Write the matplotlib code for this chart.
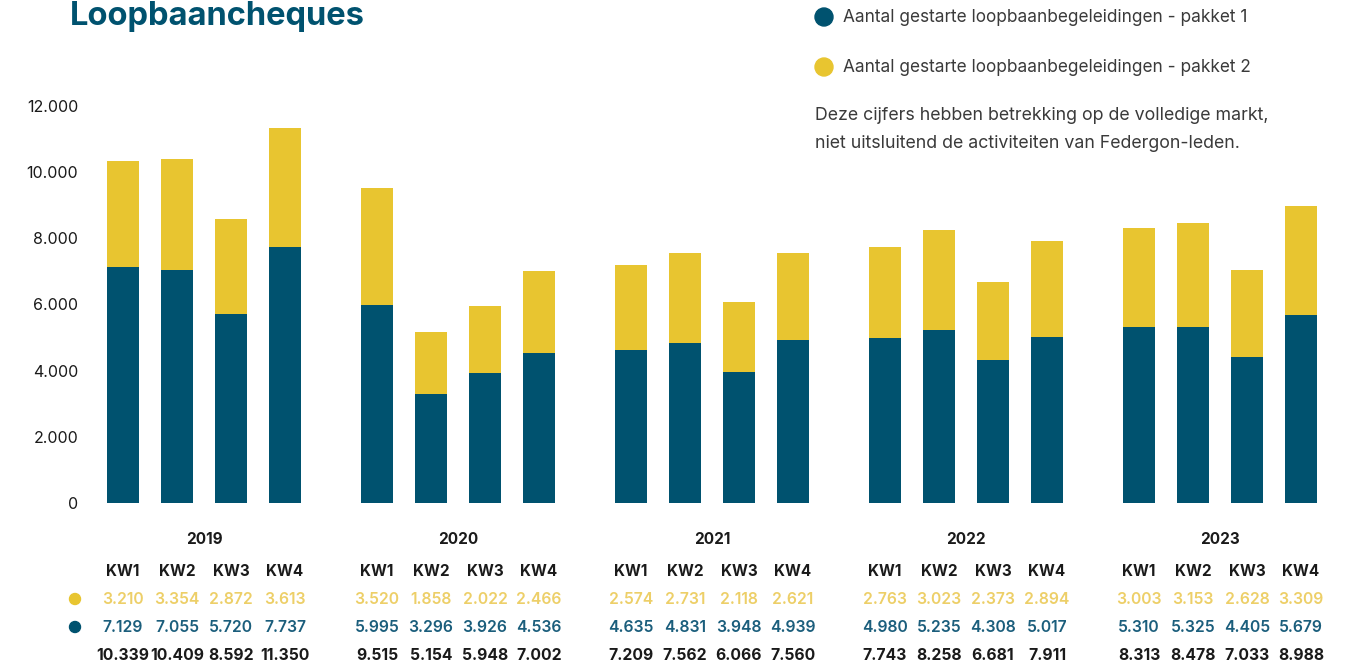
import numpy as np
import matplotlib
matplotlib.use("Agg")
from matplotlib import pyplot as plt
from matplotlib.patches import Ellipse
from matplotlib.ticker import FuncFormatter
from matplotlib.transforms import blended_transform_factory

plt.rcParams['font.family'] = ['Inter', 'DejaVu Sans']

# data
years = ['2019', '2020', '2021', '2022', '2023']
quarters = ['KW1', 'KW2', 'KW3', 'KW4']
pakket1 = [7129, 7055, 5720, 7737,
           5995, 3296, 3926, 4536,
           4635, 4831, 3948, 4939,
           4980, 5235, 4308, 5017,
           5310, 5325, 4405, 5679]
pakket2 = [3210, 3354, 2872, 3613,
           3520, 1858, 2022, 2466,
           2574, 2731, 2118, 2621,
           2763, 3023, 2373, 2894,
           3003, 3153, 2628, 3309]
label1 = 'Aantal gestarte loopbaanbegeleidingen - pakket 1'
label2 = 'Aantal gestarte loopbaanbegeleidingen - pakket 2'
note = 'Deze cijfers hebben betrekking op de volledige markt,\nniet uitsluitend de activiteiten van Federgon-leden.'

BLUE = '#00526F'
YELLOW = '#E8C530'
YELLOW_TXT = '#EDCF68'
BLUE_TXT = '#1B5E7C'
DARK = '#1a1a1a'
GREY = '#3a3a3a'

def fmt(v):
    return f"{int(v):,}".replace(',', '.')

W, H = 1354, 666
fig = plt.figure(figsize=(W / 100, H / 100), dpi=100)

# bar positions: 4 bars per year, years 254 px apart, bars 54 px apart
pos = np.array([g * (254 / 54) + q for g in range(len(years)) for q in range(4)])
width = 32 / 54

ax = fig.add_axes([95 / W, 163 / H, (1330 - 95) / W, 397 / H])
ax.bar(pos, pakket1, width=width, color=BLUE)
ax.bar(pos, pakket2, width=width, bottom=pakket1, color=YELLOW)
ax.set_xlim((95 - 123) / 54, (1330 - 123) / 54)
ax.set_ylim(0, 12000)
ax.set_yticks(np.arange(0, 12001, 2000))
ax.yaxis.set_major_formatter(FuncFormatter(lambda v, p: fmt(v)))
ax.tick_params(axis='y', length=0, pad=12, labelsize=11.5, labelcolor=DARK)
ax.set_xticks([])
for s in ax.spines.values():
    s.set_visible(False)

# title
fig.text(70 / W, 1 - 16 / H, 'Loopbaancheques', fontsize=23.5, fontweight='bold',
         color=BLUE, va='center', ha='left')

# legend + note
fig.text(843 / W, 1 - 17 / H, label1, fontsize=12.4, color=GREY, va='center')
fig.text(843 / W, 1 - 67 / H, label2, fontsize=12.4, color=GREY, va='center')
fig.text(815 / W, 1 - 129.5 / H, note, fontsize=12.8, color=GREY, va='center',
         linespacing=1.85)
fig.add_artist(Ellipse((824 / W, 1 - 17 / H), 18 / W, 18 / H,
                       transform=fig.transFigure, color=BLUE))
fig.add_artist(Ellipse((824 / W, 1 - 67 / H), 18 / W, 18 / H,
                       transform=fig.transFigure, color=YELLOW))

# table under the chart
tr = blended_transform_factory(ax.transData, fig.transFigure)
for g, yr in enumerate(years):
    cx = pos[g * 4:(g + 1) * 4].mean()
    fig.text(cx, 1 - 539 / H, yr, transform=tr, ha='center', va='center',
             fontsize=11, fontweight='bold', color=DARK)
for i, x in enumerate(pos):
    fig.text(x, 1 - 572 / H, quarters[i % 4], transform=tr, ha='center', va='center',
             fontsize=11, fontweight='bold', color=DARK)
    fig.text(x, 1 - 599 / H, fmt(pakket2[i]), transform=tr, ha='center', va='center',
             fontsize=11.3, fontweight='semibold', color=YELLOW_TXT)
    fig.text(x, 1 - 627 / H, fmt(pakket1[i]), transform=tr, ha='center', va='center',
             fontsize=11.3, fontweight='semibold', color=BLUE_TXT)
    fig.text(x, 1 - 656 / H, fmt(pakket1[i] + pakket2[i]), transform=tr, ha='center',
             va='center', fontsize=11.3, fontweight='bold', color=DARK)

fig.add_artist(Ellipse((75 / W, 1 - 599 / H), 11 / W, 11 / H,
                       transform=fig.transFigure, color=YELLOW))
fig.add_artist(Ellipse((75 / W, 1 - 627 / H), 11 / W, 11 / H,
                       transform=fig.transFigure, color=BLUE))

fig.savefig('out.png', dpi=100)
